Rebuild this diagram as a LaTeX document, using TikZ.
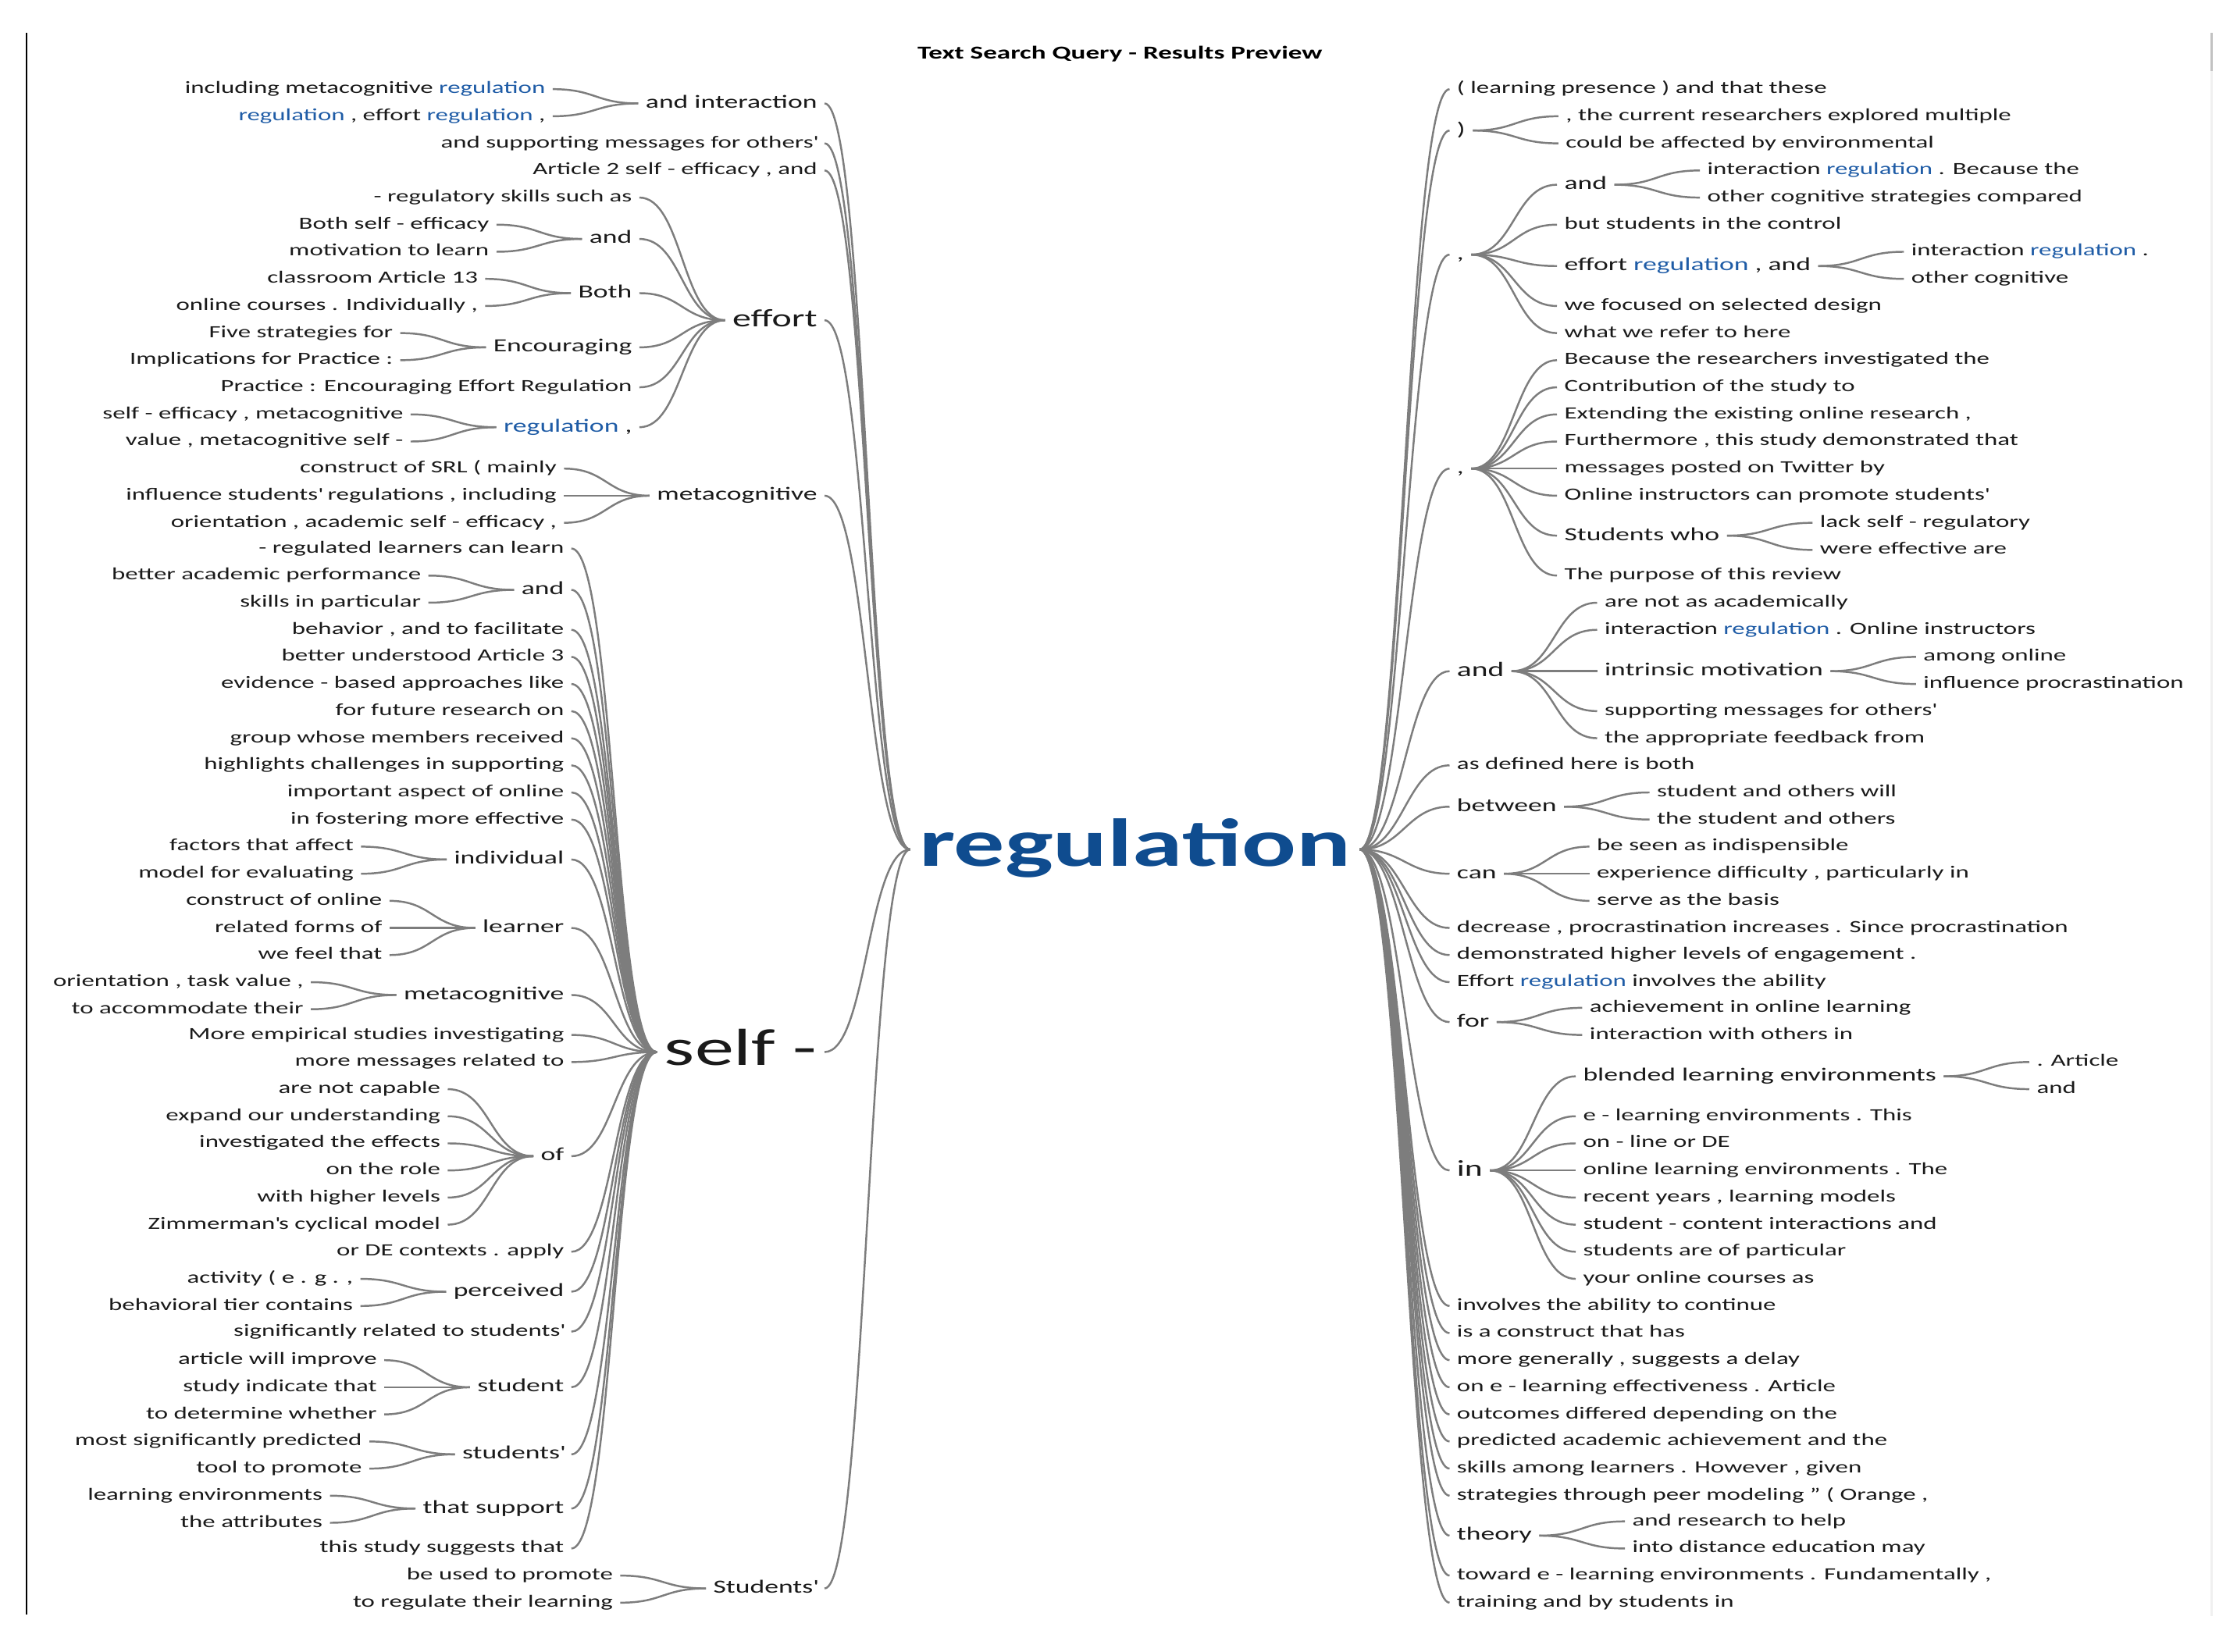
\documentclass[tikz,border=0pt]{standalone}
\usepackage{fontspec}
\setmainfont{Carlito}[FakeStretch=1.5]
\definecolor{rootblue}{HTML}{0F4C8F}
\definecolor{regblue}{HTML}{1F5CA6}
\definecolor{linkgray}{HTML}{7D7D7D}
\definecolor{txt}{HTML}{1A1A1A}
\newcommand\rg{\textcolor{regblue}{regulation}}
\newcommand\qs{\textquotesingle}
\newcommand\lk[2]{\draw[link] (#1) .. controls +(30,0) and +(-30,0) .. (#2);}
\newcommand\Lnode[5]{\node[#1,anchor=east,xshift=-60pt] (#2) at (#3.west |- 0,#4) {#5};\lk{#2.east}{#3.west}}
\newcommand\Rnode[5]{\node[#1,anchor=west,xshift=60pt] (#2) at (#3.east |- 0,#4) {#5};\lk{#3.east}{#2.west}}
\newcommand\RRnode[4]{\node[#1,anchor=west,xshift=63pt] (#2) at (R.east |- 0,#3) {#4};\lk{R.east}{#2.west}}
\begin{document}
\begin{tikzpicture}[x=1pt,y=-1pt,
  every node/.style={inner xsep=5pt, inner ysep=0pt, text=txt},
  lf/.style={font=\fontsize{12}{14}\selectfont, text height=8.4pt, text depth=2.4pt},
  md/.style={font=\fontsize{13}{15}\selectfont, text height=9.1pt, text depth=2.6pt},
  eff/.style={font=\fontsize{17.5}{20}\selectfont, text height=12.25pt, text depth=3.5pt},
  slf/.style={font=\fontsize{36.5}{40}\selectfont, text height=25.5pt, text depth=7.3pt},
  mdA/.style={font=\fontsize{14.4}{17}\selectfont, text height=10.1pt, text depth=2.9pt},
  mdI/.style={font=\fontsize{15.9}{18}\selectfont, text height=11.1pt, text depth=3.2pt},
  rootst/.style={font=\fontsize{47.5}{50}\selectfont\bfseries, text=rootblue, inner xsep=6pt, text height=33.2pt, text depth=9.5pt},
  link/.style={draw=linkgray, line width=1.35pt},
]
\useasboundingbox (0,0) rectangle (1568,1158);
% frame
\draw[line width=1.6pt, black] (18.6,23) -- (18.6,1132);
\fill[black!6] (1549.2,23) rectangle (1550.8,1133);
\fill[black!24] (1549.2,23) rectangle (1550.8,50);
\node[font=\fontsize{12.8}{15}\selectfont\bfseries, text=black, text height=9pt, text depth=2.6pt] (title) at (785,38) {Text Search Query - Results Preview};
% root
\node[rootst] (R) at (795.5,595.5) {regulation};
\begin{scope}[yshift=-2.5pt]
% ---------- left ----------
\Lnode{md}{a1}{R}{70}{and interaction}
 \Lnode{lf}{a11}{a1}{60}{including metacognitive \rg}
 \Lnode{lf}{a12}{a1}{79}{\rg{} , effort \rg{} ,}
\Lnode{lf}{a2}{R}{98}{and supporting messages for others\qs}
\Lnode{lf}{a3}{R}{117}{Article 2 self - efficacy , and}
\Lnode{eff}{a4}{R}{222}{effort}
 \Lnode{lf}{a41}{a4}{136}{- regulatory skills such as}
 \Lnode{md}{a42}{a4}{165}{and}
  \Lnode{lf}{a421}{a42}{155}{Both self - efficacy}
  \Lnode{lf}{a422}{a42}{174}{motivation to learn}
 \Lnode{md}{a43}{a4}{203}{Both}
  \Lnode{lf}{a431}{a43}{193}{classroom Article 13}
  \Lnode{lf}{a432}{a43}{212}{online courses . Individually ,}
 \Lnode{md}{a44}{a4}{241}{Encouraging}
  \Lnode{lf}{a441}{a44}{231}{Five strategies for}
  \Lnode{lf}{a442}{a44}{250}{Implications for Practice :}
 \Lnode{lf}{a45}{a4}{269}{Practice : Encouraging Effort Regulation}
 \Lnode{md}{a46}{a4}{297}{\rg{} ,}
  \Lnode{lf}{a461}{a46}{288}{self - efficacy , metacognitive}
  \Lnode{lf}{a462}{a46}{307}{value , metacognitive self -}
\Lnode{md}{a5}{R}{345}{metacognitive}
 \Lnode{lf}{a51}{a5}{326}{construct of SRL ( mainly}
 \Lnode{lf}{a52}{a5}{345}{influence students\qs{} regulations , including}
 \Lnode{lf}{a53}{a5}{364}{orientation , academic self - efficacy ,}
\Lnode{slf}{a6}{R}{735}{self -}
 \Lnode{lf}{s01}{a6}{382}{- regulated learners can learn}
 \Lnode{md}{s02}{a6}{411}{and}
  \Lnode{lf}{s021}{s02}{401}{better academic performance}
  \Lnode{lf}{s022}{s02}{420}{skills in particular}
 \Lnode{lf}{s03}{a6}{439}{behavior , and to facilitate}
 \Lnode{lf}{s04}{a6}{458}{better understood Article 3}
 \Lnode{lf}{s05}{a6}{477}{evidence - based approaches like}
 \Lnode{lf}{s06}{a6}{496}{for future research on}
 \Lnode{lf}{s07}{a6}{515}{group whose members received}
 \Lnode{lf}{s08}{a6}{534}{highlights challenges in supporting}
 \Lnode{lf}{s09}{a6}{553}{important aspect of online}
 \Lnode{lf}{s10}{a6}{572}{in fostering more effective}
 \Lnode{md}{s11}{a6}{600}{individual}
  \Lnode{lf}{s111}{s11}{591}{factors that affect}
  \Lnode{lf}{s112}{s11}{610}{model for evaluating}
 \Lnode{md}{s12}{a6}{648}{learner}
  \Lnode{lf}{s121}{s12}{629}{construct of online}
  \Lnode{lf}{s122}{s12}{648}{related forms of}
  \Lnode{lf}{s123}{s12}{667}{we feel that}
 \Lnode{md}{s13}{a6}{695}{metacognitive}
  \Lnode{lf}{s131}{s13}{686}{orientation , task value ,}
  \Lnode{lf}{s132}{s13}{705}{to accommodate their}
 \Lnode{lf}{s14}{a6}{723}{More empirical studies investigating}
 \Lnode{lf}{s15}{a6}{742}{more messages related to}
 \Lnode{md}{s16}{a6}{808}{of}
  \Lnode{lf}{s161}{s16}{761}{are not capable}
  \Lnode{lf}{s162}{s16}{780}{expand our understanding}
  \Lnode{lf}{s163}{s16}{799}{investigated the effects}
  \Lnode{lf}{s164}{s16}{818}{on the role}
  \Lnode{lf}{s165}{s16}{837}{with higher levels}
  \Lnode{lf}{s166}{s16}{856}{Zimmerman\qs{}s cyclical model}
 \Lnode{lf}{s17}{a6}{875}{or DE contexts . apply}
 \Lnode{md}{s18}{a6}{903}{perceived}
  \Lnode{lf}{s181}{s18}{894}{activity ( e . g . ,}
  \Lnode{lf}{s182}{s18}{913}{behavioral tier contains}
 \Lnode{lf}{s19}{a6}{931}{significantly related to students\qs}
 \Lnode{md}{s20}{a6}{970}{student}
  \Lnode{lf}{s201}{s20}{951}{article will improve}
  \Lnode{lf}{s202}{s20}{970}{study indicate that}
  \Lnode{lf}{s203}{s20}{989}{to determine whether}
 \Lnode{md}{s21}{a6}{1017}{students\qs}
  \Lnode{lf}{s211}{s21}{1008}{most significantly predicted}
  \Lnode{lf}{s212}{s21}{1027}{tool to promote}
 \Lnode{md}{s22}{a6}{1055}{that support}
  \Lnode{lf}{s221}{s22}{1046}{learning environments}
  \Lnode{lf}{s222}{s22}{1065}{the attributes}
 \Lnode{lf}{s23}{a6}{1083}{this study suggests that}
\Lnode{md}{a7}{R}{1111}{Students\qs}
 \Lnode{lf}{a71}{a7}{1102}{be used to promote}
 \Lnode{lf}{a72}{a7}{1121}{to regulate their learning}
% ---------- right ----------
\RRnode{lf}{r01}{60}{( learning presence ) and that these}
\RRnode{md}{r02}{89}{)}
 \Rnode{lf}{r021}{r02}{79}{, the current researchers explored multiple}
 \Rnode{lf}{r022}{r02}{98}{could be affected by environmental}
\RRnode{md}{r03}{176}{,}
 \Rnode{md}{r031}{r03}{127}{and}
  \Rnode{lf}{r0311}{r031}{117}{interaction \rg{} . Because the}
  \Rnode{lf}{r0312}{r031}{136}{other cognitive strategies compared}
 \Rnode{lf}{r032}{r03}{155}{but students in the control}
 \Rnode{md}{r033}{r03}{184}{effort \rg{} , and}
  \Rnode{lf}{r0331}{r033}{174}{interaction \rg{} .}
  \Rnode{lf}{r0332}{r033}{193}{other cognitive}
 \Rnode{lf}{r034}{r03}{212}{we focused on selected design}
 \Rnode{lf}{r035}{r03}{231}{what we refer to here}
\RRnode{md}{r04}{326}{,}
 \Rnode{lf}{r041}{r04}{250}{Because the researchers investigated the}
 \Rnode{lf}{r042}{r04}{269}{Contribution of the study to}
 \Rnode{lf}{r043}{r04}{288}{Extending the existing online research ,}
 \Rnode{lf}{r044}{r04}{307}{Furthermore , this study demonstrated that}
 \Rnode{lf}{r045}{r04}{326}{messages posted on Twitter by}
 \Rnode{lf}{r046}{r04}{345}{Online instructors can promote students\qs}
 \Rnode{md}{r047}{r04}{373}{Students who}
  \Rnode{lf}{r0471}{r047}{364}{lack self - regulatory}
  \Rnode{lf}{r0472}{r047}{383}{were effective are}
 \Rnode{lf}{r048}{r04}{401}{The purpose of this review}
\RRnode{mdA}{r05}{468}{and}
 \Rnode{lf}{r051}{r05}{420}{are not as academically}
 \Rnode{lf}{r052}{r05}{439}{interaction \rg{} . Online instructors}
 \Rnode{md}{r053}{r05}{468}{intrinsic motivation}
  \Rnode{lf}{r0531}{r053}{458}{among online}
  \Rnode{lf}{r0532}{r053}{477}{influence procrastination}
 \Rnode{lf}{r054}{r05}{496}{supporting messages for others\qs}
 \Rnode{lf}{r055}{r05}{515}{the appropriate feedback from}
\RRnode{lf}{r06}{534}{as defined here is both}
\RRnode{md}{r07}{563}{between}
 \Rnode{lf}{r071}{r07}{553}{student and others will}
 \Rnode{lf}{r072}{r07}{572}{the student and others}
\RRnode{md}{r08}{610}{can}
 \Rnode{lf}{r081}{r08}{591}{be seen as indispensible}
 \Rnode{lf}{r082}{r08}{610}{experience difficulty , particularly in}
 \Rnode{lf}{r083}{r08}{629}{serve as the basis}
\RRnode{lf}{r09}{648}{decrease , procrastination increases . Since procrastination}
\RRnode{lf}{r10}{667}{demonstrated higher levels of engagement .}
\RRnode{lf}{r11}{686}{Effort \rg{} involves the ability}
\RRnode{md}{r12}{714}{for}
 \Rnode{lf}{r121}{r12}{704}{achievement in online learning}
 \Rnode{lf}{r122}{r12}{723}{interaction with others in}
\RRnode{mdI}{r13}{818}{in}
 \Rnode{md}{r131}{r13}{752}{blended learning environments}
  \Rnode{lf}{r1311}{r131}{742}{. Article}
  \Rnode{lf}{r1312}{r131}{761}{and}
 \Rnode{lf}{r132}{r13}{780}{e - learning environments . This}
 \Rnode{lf}{r133}{r13}{799}{on - line or DE}
 \Rnode{lf}{r134}{r13}{818}{online learning environments . The}
 \Rnode{lf}{r135}{r13}{837}{recent years , learning models}
 \Rnode{lf}{r136}{r13}{856}{student - content interactions and}
 \Rnode{lf}{r137}{r13}{875}{students are of particular}
 \Rnode{lf}{r138}{r13}{894}{your online courses as}
\RRnode{lf}{r14}{913}{involves the ability to continue}
\RRnode{lf}{r15}{932}{is a construct that has}
\RRnode{lf}{r16}{951}{more generally , suggests a delay}
\RRnode{lf}{r17}{970}{on e - learning effectiveness . Article}
\RRnode{lf}{r18}{989}{outcomes differed depending on the}
\RRnode{lf}{r19}{1008}{predicted academic achievement and the}
\RRnode{lf}{r20}{1027}{skills among learners . However , given}
\RRnode{lf}{r21}{1046}{strategies through peer modeling " ( Orange ,}
\RRnode{md}{r22}{1074}{theory}
 \Rnode{lf}{r221}{r22}{1064}{and research to help}
 \Rnode{lf}{r222}{r22}{1083}{into distance education may}
\RRnode{lf}{r23}{1102}{toward e - learning environments . Fundamentally ,}
\RRnode{lf}{r24}{1121}{training and by students in}
\end{scope}
\end{tikzpicture}
\end{document}
